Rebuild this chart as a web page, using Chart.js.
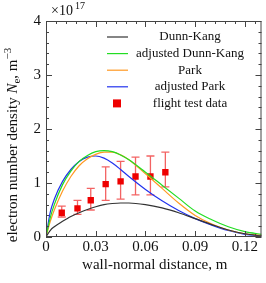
<!DOCTYPE html>
<html>
<head>
<meta charset="utf-8">
<script src="https://cdn.jsdelivr.net/npm/chart.js@4"></script>
<style>
  html, body { margin: 0; padding: 0; background: #fff; }
  #wrap { width: 266px; height: 283px; position: relative; }
</style>
</head>
<body>
<div id="wrap"><canvas id="c"></canvas></div>
<script>
// ---- data ----
const xGrid = [0, 0.0025, 0.005, 0.01, 0.015, 0.02, 0.025, 0.03, 0.035, 0.04, 0.045, 0.05, 0.06, 0.07, 0.08, 0.09, 0.1, 0.11, 0.12, 0.13];
const dunnKang    = [0, 0.12, 0.19, 0.29, 0.38, 0.45, 0.51, 0.56, 0.6, 0.62, 0.63, 0.63, 0.6, 0.54, 0.45, 0.34, 0.23, 0.13, 0.06, 0.02];
const adjDunnKang = [0, 0.35, 0.6, 0.97, 1.22, 1.4, 1.51, 1.58, 1.6, 1.58, 1.52, 1.43, 1.2, 0.96, 0.72, 0.48, 0.32, 0.19, 0.1, 0.05];
const park        = [0, 0.28, 0.5, 0.85, 1.12, 1.32, 1.45, 1.53, 1.57, 1.57, 1.52, 1.43, 1.17, 0.9, 0.63, 0.4, 0.24, 0.13, 0.06, 0.03];
const adjPark     = [0, 0.45, 0.7, 1.03, 1.25, 1.4, 1.48, 1.5, 1.46, 1.37, 1.25, 1.12, 0.88, 0.67, 0.49, 0.34, 0.22, 0.12, 0.05, 0.02];

const flightX   = [0.0095, 0.019, 0.027, 0.036, 0.045, 0.054, 0.063, 0.072];
const flightY   = [0.45, 0.53, 0.68, 0.98, 1.03, 1.12, 1.12, 1.2];
const flightLow = [0.37, 0.42, 0.5, 0.68, 0.7, 0.78, 0.78, 0.93];
const flightHigh= [0.57, 0.68, 0.9, 1.3, 1.4, 1.48, 1.5, 1.57];

const xTicks = [0, 0.03, 0.06, 0.09, 0.12];
const xTickLabels = ['0', '0.03', '0.06', '0.09', '0.12'];
const yTicks = [0, 1, 2, 3, 4];
const yTickLabels = ['0', '1', '2', '3', '4'];

const SERIF = "'Liberation Serif', 'DejaVu Serif', serif";

function pts(ys) {
  return xGrid.map((x, i) => ({ x: x, y: ys[i] }));
}

function lineSet(label, ys, color) {
  return {
    type: 'line', label: label, data: pts(ys),
    borderColor: color, borderWidth: 1.2, pointRadius: 0,
    fill: false, cubicInterpolationMode: 'monotone'
  };
}

// frame, ticks, labels, error bars, legend
const decor = {
  id: 'decor',
  beforeDatasetsDraw(chart) {
    const ctx = chart.ctx, xs = chart.scales.x, ys = chart.scales.y;
    ctx.save();
    ctx.strokeStyle = 'rgba(240,60,60,0.8)';
    ctx.lineWidth = 1.3;
    flightX.forEach((x, i) => {
      const px = xs.getPixelForValue(x);
      const lo = ys.getPixelForValue(flightLow[i]);
      const hi = ys.getPixelForValue(flightHigh[i]);
      ctx.beginPath();
      ctx.moveTo(px, lo); ctx.lineTo(px, hi);
      ctx.moveTo(px - 4, lo); ctx.lineTo(px + 4, lo);
      ctx.moveTo(px - 4, hi); ctx.lineTo(px + 4, hi);
      ctx.stroke();
    });
    ctx.restore();
  },
  afterDraw(chart) {
    const ctx = chart.ctx, a = chart.chartArea;
    const xs = chart.scales.x, ys = chart.scales.y;
    ctx.save();
    ctx.strokeStyle = '#444';
    ctx.lineWidth = 1;
    ctx.strokeRect(a.left + 0.5, a.top + 0.5, a.right - a.left - 1, a.bottom - a.top - 1);

    // x ticks: minor every 0.006, major every 0.03
    ctx.beginPath();
    for (let k = 0; k * 0.006 <= 0.1301; k++) {
      const px = Math.round(xs.getPixelForValue(k * 0.006)) + 0.5;
      const len = (k % 5 === 0) ? 6 : 3;
      ctx.moveTo(px, a.bottom); ctx.lineTo(px, a.bottom - len);
      ctx.moveTo(px, a.top); ctx.lineTo(px, a.top + len);
    }
    // y ticks: minor every 0.2, major every 1
    for (let k = 0; k <= 20; k++) {
      const py = Math.round(ys.getPixelForValue(k * 0.2)) + 0.5;
      const len = (k % 5 === 0) ? 6 : 3;
      ctx.moveTo(a.left, py); ctx.lineTo(a.left + len, py);
      ctx.moveTo(a.right, py); ctx.lineTo(a.right - len, py);
    }
    ctx.stroke();

    ctx.fillStyle = '#111';
    ctx.font = '15px ' + SERIF;
    ctx.textAlign = 'center';
    ctx.textBaseline = 'top';
    xTicks.forEach((v, i) => ctx.fillText(xTickLabels[i], xs.getPixelForValue(v), a.bottom + 3));
    ctx.textAlign = 'right';
    ctx.textBaseline = 'middle';
    yTicks.forEach((v, i) => ctx.fillText(yTickLabels[i], a.left - 5, ys.getPixelForValue(v)));

    // x10^17
    ctx.textAlign = 'left';
    ctx.textBaseline = 'alphabetic';
    ctx.font = '14px ' + SERIF;
    ctx.fillText('\u00d710', 51, 15);
    ctx.font = '10px ' + SERIF;
    ctx.fillText('17', 75, 9);

    // x title
    ctx.font = '15px ' + SERIF;
    ctx.textAlign = 'center';
    ctx.fillText('wall-normal distance, m', (a.left + a.right) / 2 + 1, 269);

    // y title (rotated, with italic N, subscript e, superscript -3)
    ctx.translate(17, 145);
    ctx.rotate(-Math.PI / 2);
    const parts = [
      { t: 'electron number density ', f: '15px ' + SERIF, dy: 0 },
      { t: 'N', f: 'italic 15px ' + SERIF, dy: 0 },
      { t: 'e', f: '11px ' + SERIF, dy: 3 },
      { t: ', m', f: '15px ' + SERIF, dy: 0 },
      { t: '\u22123', f: '11px ' + SERIF, dy: -6 }
    ];
    let total = 0;
    parts.forEach(p => { ctx.font = p.f; total += ctx.measureText(p.t).width; });
    let cx = -total / 2;
    ctx.textAlign = 'left';
    parts.forEach(p => {
      ctx.font = p.f;
      ctx.fillText(p.t, cx, p.dy);
      cx += ctx.measureText(p.t).width;
    });
    ctx.setTransform(1, 0, 0, 1, 0, 0);

    // legend
    const rows = chart.data.datasets.map(d => d);
    ctx.font = '13px ' + SERIF;
    ctx.textAlign = 'center';
    ctx.textBaseline = 'middle';
    rows.forEach((d, i) => {
      const y = 37 + i * 16.6;
      if (d.type === 'line') {
        ctx.strokeStyle = d.borderColor;
        ctx.lineWidth = 1.2;
        ctx.beginPath();
        ctx.moveTo(107, y); ctx.lineTo(128, y);
        ctx.stroke();
      } else {
        ctx.fillStyle = d.backgroundColor;
        ctx.fillRect(113, y - 4, 8, 8);
      }
      ctx.fillStyle = '#111';
      ctx.fillText(d.label, 190, y);
    });
    ctx.restore();
  }
};

new Chart(document.getElementById('c'), {
  data: {
    datasets: [
      lineSet('Dunn-Kang', dunnKang, '#333333'),
      lineSet('adjusted Dunn-Kang', adjDunnKang, '#22dd22'),
      lineSet('Park', park, '#ff9922'),
      lineSet('adjusted Park', adjPark, '#2233ee'),
      {
        type: 'scatter', label: 'flight test data',
        data: flightX.map((x, i) => ({ x: x, y: flightY[i] })),
        backgroundColor: '#ee0000', borderColor: '#ee0000',
        pointStyle: 'rect', pointRadius: 4.5, borderWidth: 0
      }
    ]
  },
  options: {
    responsive: true,
    maintainAspectRatio: false,
    animation: false,
    layout: { padding: { left: 46, top: 21, right: 3, bottom: 46 } },
    plugins: { legend: { display: false }, tooltip: { enabled: false } },
    scales: {
      x: { type: 'linear', min: 0, max: 0.13, display: false },
      y: { type: 'linear', min: 0, max: 4, display: false }
    }
  },
  plugins: [decor]
});
</script>
</body>
</html>
